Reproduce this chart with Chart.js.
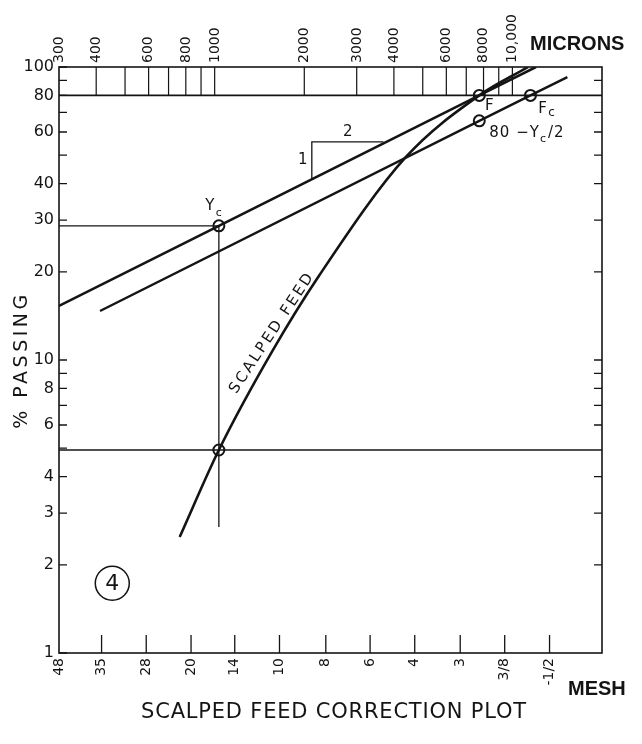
<!DOCTYPE html>
<html>
<head>
<meta charset="utf-8">
<script src="https://cdn.jsdelivr.net/npm/chart.js@4.4.0/dist/chart.umd.min.js"></script>
<style>
  html, body { margin: 0; padding: 0; background: #fff; }
  #wrap { width: 642px; height: 744px; position: relative; }
</style>
</head>
<body>
<div id="wrap"><canvas id="chart"></canvas></div>
<script>
// Axis ranges: particle size in microns, % passing
const xMin = 300, xMax = 20000;
const yMin = 1, yMax = 100;

// Mesh scale along the bottom (Tyler openings, microns)
const meshSizes = [300, 417, 589, 833, 1168, 1651, 2362, 3327, 4699, 6680, 9423, 13330];
const meshLabels = ["48", "35", "28", "20", "14", "10", "8", "6", "4", "3", "3/8", "-1/2"];

// Micron scale along the top
const micronTicks = [300, 400, 600, 800, 1000, 2000, 3000, 4000, 6000, 8000, 10000];
const micronLabels = ["300", "400", "600", "800", "1000", "2000", "3000", "4000", "6000", "8000", "10,000"];
const micronBand = [400, 500, 600, 700, 800, 900, 1000, 2000, 3000, 4000, 5000, 6000, 7000, 8000, 9000, 10000];

// % passing ticks
const passTicks = [1, 2, 3, 4, 5, 6, 7, 8, 9, 10, 20, 30, 40, 50, 60, 70, 80, 90, 100];
const passLabels = [1, 2, 3, 4, 6, 8, 10, 20, 30, 40, 60, 80, 100];
const rightTicks = [2, 3, 4, 6, 7, 8, 9, 10, 20, 30, 40, 50, 60, 70, 90];

// Scalped feed curve
const feedSize = [763, 1033, 1560, 2250, 4390, 7742, 11300];
const feedPass = [2.49, 4.93, 10.7, 19.5, 49.3, 80, 100];

// Line through Yc and F
const upperSize = [300, 1033, 7742, 12000];
const upperPass = [15.3, 28.7, 80, 100];

// Parallel line through 80 - Yc/2 and Fc
const lowerSize = [412, 7742, 11500, 15300];
const lowerPass = [14.7, 65.5, 80, 92.4];

// Marked points: Yc, feed at 5 %, F, 80 - Yc/2, Fc
const keySize = [1033, 1033, 7742, 7742, 11500];
const keyPass = [28.7, 4.93, 80, 65.5, 80];

// Construction lines
const ycPass = 28.7;
const feedCut = 4.93;
const dropEnd = 2.69;
const bandLow = 80;

// Slope triangle 1:2
const triSize = [2120, 2120, 3690];
const triPass = [41.4, 55.5, 55.5];

const ink = "#141414";
const font = "DejaVu Sans";

function pts(xs, ys) {
  return xs.map((x, i) => ({ x: x, y: ys[i] }));
}

// vertical strokes in the 80-100 band under the micron labels
const bandData = [];
micronBand.forEach(v => {
  bandData.push({ x: v, y: bandLow }, { x: v, y: yMax }, { x: v, y: null });
});

const thin = { borderColor: ink, pointRadius: 0, fill: false, spanGaps: false };

const datasets = [
  Object.assign({ data: bandData, borderWidth: 1.2 }, thin),
  Object.assign({ data: pts([xMin, xMax], [bandLow, bandLow]), borderWidth: 1.6 }, thin),
  Object.assign({ data: pts([xMin, xMax], [feedCut, feedCut]), borderWidth: 1.5 }, thin),
  Object.assign({ data: pts([xMin, keySize[0], keySize[0]], [ycPass, ycPass, dropEnd]), borderWidth: 1.3 }, thin),
  Object.assign({ data: pts(triSize, triPass), borderWidth: 1.3 }, thin),
  { data: pts(upperSize, upperPass), borderColor: ink, borderWidth: 2.6, pointRadius: 0 },
  { data: pts(lowerSize, lowerPass), borderColor: ink, borderWidth: 2.4, pointRadius: 0 },
  { data: pts(feedSize, feedPass), borderColor: ink, borderWidth: 2.6, pointRadius: 0,
    cubicInterpolationMode: "monotone" },
  { data: pts(keySize, keyPass), showLine: false, pointRadius: 5.5, pointBorderWidth: 2,
    pointBorderColor: ink, pointBackgroundColor: "rgba(0,0,0,0)" }
];

function spaced(ctx, px) {
  if ("letterSpacing" in ctx) ctx.letterSpacing = px + "px";
}

const inkPlugin = {
  id: "ink",
  afterDatasetsDraw(chart) {
    const ctx = chart.ctx;
    const a = chart.chartArea;
    const sx = chart.scales.x, sy = chart.scales.y;
    const X = v => sx.getPixelForValue(v);
    const Y = v => sy.getPixelForValue(v);
    ctx.save();
    ctx.strokeStyle = ink;
    ctx.fillStyle = ink;

    // frame
    ctx.lineWidth = 1.6;
    ctx.strokeRect(a.left, a.top, a.right - a.left, a.bottom - a.top);

    // ticks pointing into the plot
    ctx.lineWidth = 1.3;
    ctx.beginPath();
    passTicks.forEach(v => { ctx.moveTo(a.left, Y(v)); ctx.lineTo(a.left + 8, Y(v)); });
    rightTicks.forEach(v => { ctx.moveTo(a.right, Y(v)); ctx.lineTo(a.right - 8, Y(v)); });
    meshSizes.slice(1).forEach(v => { ctx.moveTo(X(v), a.bottom); ctx.lineTo(X(v), a.bottom - 18); });
    ctx.stroke();

    ctx.textBaseline = "middle";
    ctx.textAlign = "center";

    // Yc
    const ycx = X(keySize[0]), ycy = Y(keyPass[0]);
    ctx.font = "15px " + font;
    ctx.fillText("Y", ycx - 9, ycy - 20);
    ctx.font = "11px " + font;
    ctx.fillText("c", ycx, ycy - 13);

    // F
    const fx = X(keySize[2]), fy = Y(keyPass[2]);
    ctx.font = "15px " + font;
    ctx.fillText("F", fx + 10, fy + 11);

    // Fc
    const fcx = X(keySize[4]), fcy = Y(keyPass[4]);
    ctx.fillText("F", fcx + 12, fcy + 14);
    ctx.font = "12px " + font;
    ctx.fillText("c", fcx + 21, fcy + 17);

    // 80 - Yc/2
    const hx = X(keySize[3]) + 10, hy = Y(keyPass[3]) + 12;
    ctx.textAlign = "left";
    ctx.font = "15px " + font;
    spaced(ctx, 1);
    let t = "80 \u2212Y";
    ctx.fillText(t, hx, hy);
    let w = ctx.measureText(t).width;
    ctx.font = "11px " + font;
    ctx.fillText("c", hx + w, hy + 6);
    w += ctx.measureText("c").width;
    ctx.font = "15px " + font;
    ctx.fillText("/2", hx + w + 1, hy);
    spaced(ctx, 0);

    // slope triangle labels
    ctx.textAlign = "center";
    const tx = X(triSize[0]);
    ctx.fillText("1", tx - 9, (Y(triPass[0]) + Y(triPass[1])) / 2);
    ctx.fillText("2", (tx + X(triSize[2])) / 2, Y(triPass[1]) - 10);

    // SCALPED FEED along the curve
    ctx.save();
    ctx.translate(X(1562), Y(12.4));
    ctx.rotate(-56.6 * Math.PI / 180);
    ctx.font = "15px " + font;
    spaced(ctx, 2.5);
    ctx.fillText("SCALPED FEED", 0, 0);
    ctx.restore();

    // circled figure number
    const cx = X(453), cy = Y(1.73);
    ctx.lineWidth = 1.5;
    ctx.beginPath();
    ctx.arc(cx, cy, 17, 0, Math.PI * 2);
    ctx.stroke();
    ctx.font = "22px " + font;
    ctx.fillText("4", cx, cy + 1);

    // axis titles and caption
    ctx.font = "bold 20px Liberation Sans";
    ctx.textAlign = "left";
    ctx.fillText("MICRONS", 530, 44);
    ctx.fillText("MESH", 568, 689);

    ctx.font = "21px " + font;
    ctx.textAlign = "center";
    spaced(ctx, 0.8);
    ctx.fillText("SCALPED FEED CORRECTION PLOT", 334, 713);

    ctx.save();
    ctx.translate(22, 360);
    ctx.rotate(-Math.PI / 2);
    ctx.font = "19px " + font;
    spaced(ctx, 3.5);
    ctx.fillText("% PASSING", 0, 0);
    ctx.restore();

    ctx.restore();
  }
};

const tickFont = { family: font, size: 14 };

new Chart(document.getElementById("chart"), {
  type: "line",
  data: { datasets: datasets },
  options: {
    responsive: true,
    maintainAspectRatio: false,
    animation: false,
    events: [],
    layout: { padding: 0 },
    plugins: { legend: { display: false }, tooltip: { enabled: false }, title: { display: false } },
    scales: {
      x: {
        type: "logarithmic", position: "bottom", min: xMin, max: xMax,
        afterBuildTicks: s => { s.ticks = meshSizes.map(v => ({ value: v })); },
        afterFit: s => { s.height = 91; },
        grid: { display: false }, border: { display: false },
        ticks: { autoSkip: false, minRotation: 90, maxRotation: 90, padding: -3, color: ink, font: tickFont,
                 callback: (v, i) => meshLabels[i] }
      },
      xTop: {
        type: "logarithmic", position: "top", min: xMin, max: xMax,
        afterBuildTicks: s => { s.ticks = micronTicks.map(v => ({ value: v })); },
        afterFit: s => { s.height = 67; },
        grid: { display: false }, border: { display: false },
        ticks: { autoSkip: false, minRotation: 90, maxRotation: 90, padding: -4, labelOffset: 17,
                 color: ink, font: tickFont, callback: (v, i) => micronLabels[i] }
      },
      y: {
        type: "logarithmic", position: "left", min: yMin, max: yMax,
        afterBuildTicks: s => { s.ticks = passTicks.map(v => ({ value: v })); },
        afterFit: s => { s.width = 59; },
        grid: { display: false, drawTicks: false }, border: { display: false },
        ticks: { autoSkip: false, padding: 5, color: ink, font: { family: font, size: 16 },
                 callback: v => passLabels.includes(v) ? String(v) : "" }
      },
      yRight: {
        type: "logarithmic", position: "right", min: yMin, max: yMax,
        afterFit: s => { s.width = 40; },
        grid: { display: false }, border: { display: false },
        ticks: { display: false }
      }
    }
  },
  plugins: [inkPlugin]
});
</script>
</body>
</html>
